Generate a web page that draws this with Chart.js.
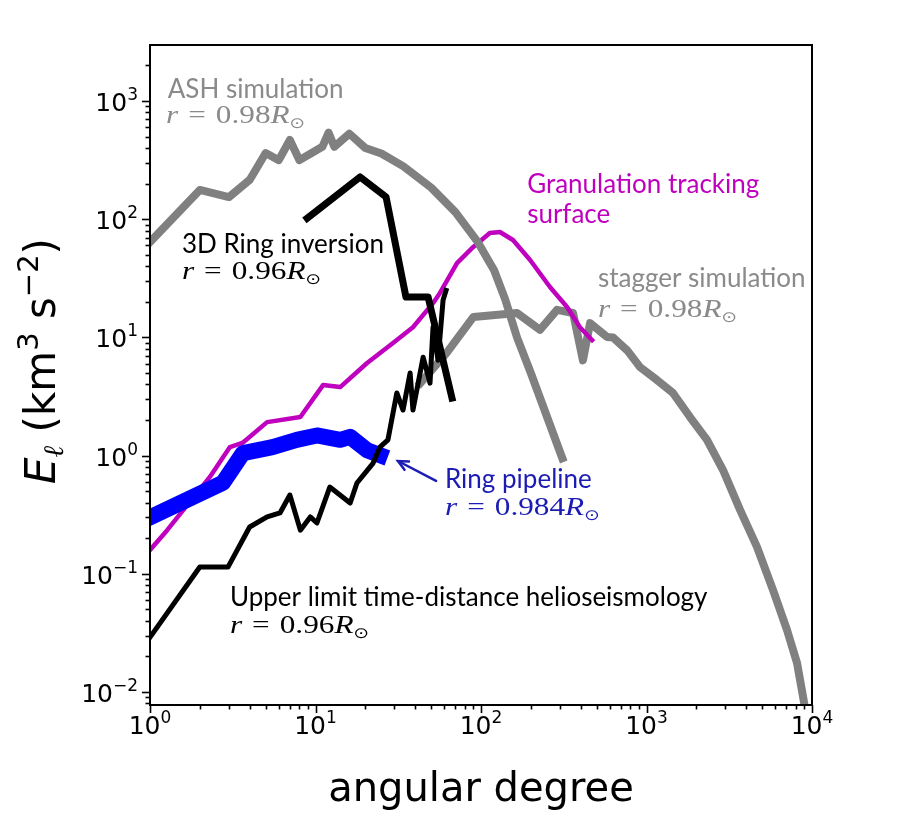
<!DOCTYPE html>
<html>
<head>
<meta charset="utf-8">
<script src="https://cdn.jsdelivr.net/npm/chart.js@4/dist/chart.umd.min.js"></script>
<style>
  body { margin: 0; background: #fff; }
  #wrap { width: 911px; height: 816px; }
</style>
</head>
<body>
<div id="wrap"><canvas id="c" width="911" height="816"></canvas></div>
<script>
// ASH simulation, r = 0.98 Rsun
const ashL = [1, 2, 3, 4, 5, 6, 7, 8, 10, 11, 12, 13, 16, 20, 25, 34, 50, 70, 95, 120, 140, 165, 200, 310];
const ashE = [64, 177, 154, 215, 363, 316, 468, 316, 380, 410, 540, 410, 530, 400, 360, 280, 185, 115, 65, 37, 21, 10, 5, 0.95];

// stagger simulation, r = 0.98 Rsun
const stagL = [43, 62, 90, 165, 227, 288, 360, 413, 456, 577, 628, 763, 914, 1157, 1445, 1832, 2320, 2900, 3675, 4650, 5810, 7060, 8120, 8830, 9400];
const stagE = [4.1, 7.4, 14.9, 16.1, 11.6, 17.1, 16.1, 6.4, 13.2, 10.1, 10, 7.8, 5.6, 4.36, 3.39, 2.12, 1.36, 0.755, 0.347, 0.169, 0.073, 0.0335, 0.0176, 0.0091, 0.0055];

// granulation tracking, surface
const granL = [1, 1.27, 2.3, 3.04, 3.65, 5.1, 8.1, 11.1, 14.1, 20.5, 29.4, 38.8, 51.3, 56.5, 71.6, 89.5, 113, 130, 156, 198, 261, 331, 396, 469];
const granE = [0.159, 0.234, 0.66, 1.18, 1.29, 1.92, 2.12, 3.95, 3.8, 6.07, 8.97, 12.2, 19.5, 23.8, 42.6, 58, 76.4, 78, 66.7, 45.2, 26.7, 18.1, 12.2, 9.5];

// ring pipeline, r = 0.984 Rsun
const ringL = [1, 2.76, 3.65, 5.5, 7.7, 10.2, 14.1, 16.2, 20.5, 24.5];
const ringE = [0.30, 0.59, 1.05, 1.18, 1.36, 1.48, 1.36, 1.44, 1.11, 1.01];

// 3D ring inversion, r = 0.96 Rsun
const inv3dL = [8.9, 18.6, 26.7, 35.2, 47.9, 66.8];
const inv3dE = [102, 228, 154, 22, 22, 3.07];

// upper limit time-distance, r = 0.96 Rsun
const tdL = [1, 2, 2.96, 4, 5.1, 6.1, 7, 8.1, 9.3, 10.2, 12.2, 16.2, 17.8, 22.3, 24.5, 27.4, 31, 33.8, 37.3, 38.8, 44.7, 49.2, 51.3, 55, 59, 61.5];
const tdE = [0.029, 0.114, 0.114, 0.249, 0.303, 0.327, 0.464, 0.234, 0.303, 0.269, 0.542, 0.397, 0.586, 0.865, 1.18, 1.36, 3.39, 2.43, 5.0, 2.43, 6.8, 4.1, 12.2, 6.4, 20.7, 25];

// tick labels
const xDecades = [1, 10, 100, 1000, 10000];
const xExps = ['0', '1', '2', '3', '4'];
const yDecades = [0.01, 0.1, 1, 10, 100, 1000];
const yExps = ['\u22122', '\u22121', '0', '1', '2', '3'];

const X_MIN = 1, X_MAX = 10000, Y_MIN = 0.00776, Y_MAX = 2980;

const SANS = '"Lato", "DejaVu Sans", sans-serif';
const SERIF = '"Liberation Serif", serif';
const GRAY_TXT = '#8a8a8a';
const MAG = '#bf00bf';
const BLUE_TXT = '#1c1cb4';

function pts(xs, ys) { return xs.map((x, i) => ({ x: x, y: ys[i] })); }

// formula "r = 0.98 R_sun" (drawn a bit wider, like the source)
function rForm(val, color) {
  return [
    { t: 'r', font: 'italic 25px ' + SERIF, color },
    { t: '=', font: '25px ' + SERIF, color, pad: 8 },
    { t: val, font: '25px ' + SERIF, color },
    { t: 'R', font: 'italic 25px ' + SERIF, color },
    { t: '\u2299', font: '15px "DejaVu Sans"', color, dy: 5 }
  ];
}
function plain(s, color) { return [{ t: s, font: '26px ' + SANS, color }]; }

// labels anchored at (x value, baseline y value)
const labels = [
  { x: 1.28, y: 1060, runs: plain('ASH simulation', GRAY_TXT) },
  { x: 1.25, y: 652, runs: rForm('0.98', GRAY_TXT), sx: 1.25 },
  { x: 1.56, y: 51.8, runs: plain('3D Ring inversion', '#000') },
  { x: 1.56, y: 31.2, runs: rForm('0.96', '#000'), sx: 1.25 },
  { x: 190, y: 167, runs: plain('Granulation tracking', MAG) },
  { x: 190, y: 92.9, runs: plain('surface', MAG) },
  { x: 509, y: 26.7, runs: plain('stagger simulation', GRAY_TXT) },
  { x: 509, y: 14.9, runs: rForm('0.98', GRAY_TXT), sx: 1.25 },
  { x: 60.6, y: 0.532, runs: plain('Ring pipeline', BLUE_TXT) },
  { x: 60.6, y: 0.314, runs: rForm('0.984', BLUE_TXT), sx: 1.25 },
  { x: 3.04, y: 0.0535, runs: plain('Upper limit time-distance helioseismology', '#000') },
  { x: 3.04, y: 0.0316, runs: rForm('0.96', '#000'), sx: 1.25 }
];
const arrowFrom = { x: 53.5, y: 0.61 };
const arrowTo = { x: 31.5, y: 0.9 };

function drawRuns(ctx, x, y, runs) {
  let cx = x;
  runs.forEach(r => {
    ctx.font = r.font;
    ctx.fillStyle = r.color;
    const p = r.pad || 0;
    ctx.fillText(r.t, cx + p, y + (r.dy || 0));
    cx += ctx.measureText(r.t).width + 2 * p;
  });
  return cx - x;
}
function runsWidth(ctx, runs) {
  let w = 0;
  runs.forEach(r => { ctx.font = r.font; w += ctx.measureText(r.t).width + 2 * (r.pad || 0); });
  return w;
}

const decorPlugin = {
  id: 'decor',
  afterDatasetsDraw(chart) {
    const ctx = chart.ctx, xs = chart.scales.x, ys = chart.scales.y, a = chart.chartArea;
    ctx.save();
    ctx.textBaseline = 'alphabetic';
    ctx.textAlign = 'left';

    // annotations
    labels.forEach(l => {
      ctx.save();
      ctx.translate(xs.getPixelForValue(l.x), ys.getPixelForValue(l.y));
      ctx.scale(l.sx || 1, 1);
      drawRuns(ctx, 0, 0, l.runs);
      ctx.restore();
    });

    // arrow to ring pipeline
    const x0 = xs.getPixelForValue(arrowFrom.x), y0 = ys.getPixelForValue(arrowFrom.y);
    const x1 = xs.getPixelForValue(arrowTo.x), y1 = ys.getPixelForValue(arrowTo.y);
    const ang = Math.atan2(y0 - y1, x0 - x1);
    ctx.strokeStyle = BLUE_TXT; ctx.lineWidth = 2.5; ctx.lineCap = 'round';
    ctx.beginPath(); ctx.moveTo(x0, y0); ctx.lineTo(x1, y1); ctx.stroke();
    ctx.beginPath();
    ctx.moveTo(x1 + 11 * Math.cos(ang - 0.45), y1 + 11 * Math.sin(ang - 0.45));
    ctx.lineTo(x1, y1);
    ctx.lineTo(x1 + 11 * Math.cos(ang + 0.45), y1 + 11 * Math.sin(ang + 0.45));
    ctx.stroke();

    // frame
    ctx.strokeStyle = '#000'; ctx.lineWidth = 2; ctx.lineCap = 'butt';
    ctx.strokeRect(a.left, a.top, a.right - a.left, a.bottom - a.top);

    // ticks
    ctx.lineWidth = 1.6;
    for (let e = -3; e <= 4; e++) {
      for (let m = 1; m < 10; m++) {
        const v = m * Math.pow(10, e);
        const len = m === 1 ? 8 : 4.5;
        if (v >= X_MIN && v <= X_MAX) {
          const px = Math.round(xs.getPixelForValue(v)) + 0.5;
          ctx.beginPath(); ctx.moveTo(px, a.bottom); ctx.lineTo(px, a.bottom + len); ctx.stroke();
        }
        if (v >= Y_MIN && v <= Y_MAX) {
          const py = Math.round(ys.getPixelForValue(v)) + 0.5;
          ctx.beginPath(); ctx.moveTo(a.left, py); ctx.lineTo(a.left - len, py); ctx.stroke();
        }
      }
    }

    // tick labels
    ctx.fillStyle = '#000';
    const base = '25px "DejaVu Sans"', sup = '17px "DejaVu Sans"';
    xDecades.forEach((v, i) => {
      const runs = [{ t: '10', font: base, color: '#000' }, { t: xExps[i], font: sup, color: '#000', dy: -11 }];
      const w = runsWidth(ctx, runs);
      drawRuns(ctx, xs.getPixelForValue(v) - w / 2, a.bottom + 29, runs);
    });
    yDecades.forEach((v, i) => {
      const runs = [{ t: '10', font: base, color: '#000' }, { t: yExps[i], font: sup, color: '#000', dy: -11 }];
      const w = runsWidth(ctx, runs);
      drawRuns(ctx, a.left - 12 - w, ys.getPixelForValue(v) + 10, runs);
    });

    // axis titles
    ctx.font = '40px "DejaVu Sans"';
    ctx.textAlign = 'center';
    ctx.fillText('angular degree', (a.left + a.right) / 2, 801);

    ctx.translate(55, 361);
    ctx.rotate(-Math.PI / 2);
    ctx.textAlign = 'left';
    const yt = [
      { t: 'E', font: 'oblique 42px "DejaVu Sans"', color: '#000' },
      { t: '\u2113', font: 'italic 28px "DejaVu Serif"', color: '#000', dy: 8 },
      { t: ' (km', font: '42px "DejaVu Sans"', color: '#000' },
      { t: '3', font: '29px "DejaVu Sans"', color: '#000', dy: -17 },
      { t: ' s', font: '42px "DejaVu Sans"', color: '#000' },
      { t: '\u22122', font: '29px "DejaVu Sans"', color: '#000', dy: -17 },
      { t: ')', font: '42px "DejaVu Sans"', color: '#000' }
    ];
    const tw = runsWidth(ctx, yt);
    drawRuns(ctx, -tw / 2, 0, yt);
    ctx.restore();
  }
};

const lineDefaults = { pointRadius: 0, fill: false, tension: 0, borderJoinStyle: 'round', borderCapStyle: 'square' };

new Chart(document.getElementById('c'), {
  type: 'line',
  data: {
    datasets: [
      Object.assign({ label: 'stagger simulation', data: pts(stagL, stagE), borderColor: '#808080', borderWidth: 8, order: 6 }, lineDefaults),
      Object.assign({ label: 'Granulation tracking', data: pts(granL, granE), borderColor: MAG, borderWidth: 4.5, order: 5 }, lineDefaults),
      Object.assign({ label: 'ASH simulation', data: pts(ashL, ashE), borderColor: '#808080', borderWidth: 8, order: 4 }, lineDefaults),
      Object.assign({ label: 'Ring pipeline', data: pts(ringL, ringE), borderColor: '#0000ff', borderWidth: 16, order: 3 }, lineDefaults),
      Object.assign({ label: '3D Ring inversion', data: pts(inv3dL, inv3dE), borderColor: '#000', borderWidth: 7, order: 2 }, lineDefaults),
      Object.assign({ label: 'Upper limit time-distance', data: pts(tdL, tdE), borderColor: '#000', borderWidth: 5, order: 1 }, lineDefaults)
    ]
  },
  options: {
    responsive: false,
    animation: false,
    events: [],
    layout: { padding: { left: 150, right: 99, top: 45, bottom: 111 } },
    plugins: { legend: { display: false }, tooltip: { enabled: false } },
    scales: {
      x: {
        type: 'logarithmic', min: X_MIN, max: X_MAX, bounds: 'data',
        grid: { display: false, drawTicks: false }, border: { display: false },
        ticks: { display: false }
      },
      y: {
        type: 'logarithmic', min: Y_MIN, max: Y_MAX, bounds: 'data',
        grid: { display: false, drawTicks: false }, border: { display: false },
        ticks: { display: false }
      }
    }
  },
  plugins: [decorPlugin]
});
</script>
</body>
</html>
